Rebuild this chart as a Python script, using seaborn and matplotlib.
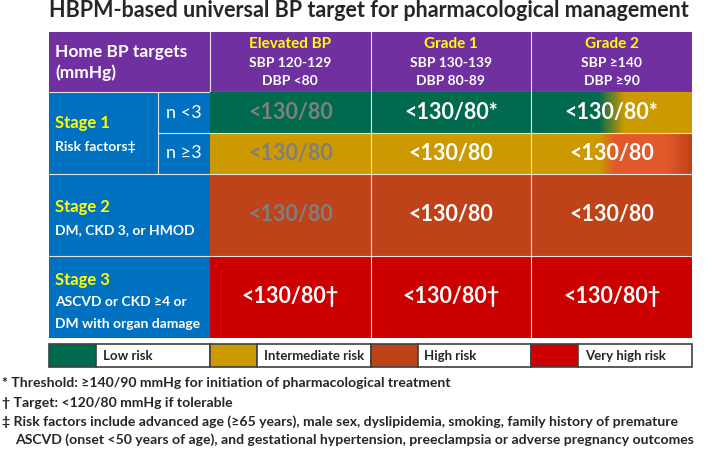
import numpy as np
import matplotlib
matplotlib.use('Agg')
import matplotlib.pyplot as plt
from matplotlib.colors import ListedColormap, to_rgb
from matplotlib.patches import Rectangle
import seaborn as sns

title = 'HBPM-based universal BP target for pharmacological management'
corner = ['Home BP targets', '(mmHg)']
grades = ['Elevated BP', 'Grade 1', 'Grade 2']
grade_sbp = ['SBP 120-129', 'SBP 130-139', 'SBP ≥140']
grade_dbp = ['DBP <80', 'DBP 80-89', 'DBP ≥90']
stages = ['Stage 1', 'Stage 2', 'Stage 3']
stage_notes = [['Risk factors‡'], ['DM, CKD 3, or HMOD'], ['ASCVD or CKD ≥4 or', 'DM with organ damage']]
risk_groups = ['n <3', 'n ≥3']
risk_names = ['Low risk', 'Intermediate risk', 'High risk', 'Very high risk']

# rows: stage1 n<3, stage1 n>=3, stage 2, stage 3 ; cols: grades
risk_left = [[0, 0, 0], [1, 1, 1], [2, 2, 2], [3, 3, 3]]
risk_right = [[0, 0, 1], [1, 1, 2], [2, 2, 2], [3, 3, 3]]
targets = [['<130/80', '<130/80*', '<130/80*'],
           ['<130/80', '<130/80', '<130/80'],
           ['<130/80', '<130/80', '<130/80'],
           ['<130/80†', '<130/80†', '<130/80†']]
muted = [[1, 0, 0], [1, 0, 0], [1, 0, 0], [0, 0, 0]]
row_span = [1, 1, 2, 2]

footnotes = ['* Threshold: ≥140/90 mmHg for initiation of pharmacological treatment',
             '† Target: <120/80 mmHg if tolerable',
             '‡ Risk factors include advanced age (≥65 years), male sex, dyslipidemia, smoking, family history of premature',
             'ASCVD (onset <50 years of age), and gestational hypertension, preeclampsia or adverse pregnancy outcomes']

purple = '#7030A0'
blue = '#0070C0'
risk_colors = ['#006A4E', '#CC9900', '#BE4318', '#CC0000']
orange = '#E2592A'
line_c = '#E4E4E4'

sns.set_theme(style='white')
plt.rcParams['font.family'] = ['Lato', 'DejaVu Sans']

fig = plt.figure(figsize=(7.08, 4.49), dpi=100)
ax = fig.add_axes([0, 0, 1, 1])
ax.set_xlim(0, 708)
ax.set_ylim(449, 0)
ax.axis('off')

# layout in pixels
x_left, x_sub, x_cells, x_right = 49, 158, 210, 692
y_top, y_head = 32, 92
unit = 41
col_w = (x_right - x_cells) / 3
row_edges = np.concatenate([[0], np.cumsum(row_span)])
y_edges = y_head + row_edges * unit
y_bottom = y_edges[-1]

ax.add_patch(Rectangle((x_left, y_top), x_right - x_left, y_head - y_top, color=purple, lw=0))
ax.add_patch(Rectangle((x_left, y_head), x_cells - x_left, y_bottom - y_head, color=blue, lw=0))
for gx in [x_cells + col_w * i for i in range(3)]:
    ax.plot([gx, gx], [y_top, y_head], color=line_c, lw=0.8)
ax.plot([x_left, x_right], [y_head, y_head], color=line_c, lw=0.8)
ax.plot([x_sub, x_sub], [y_head, y_edges[2]], color=line_c, lw=0.8)
ax.plot([x_sub, x_cells], [y_edges[1], y_edges[1]], color=line_c, lw=0.8)
for yy in [y_edges[2], y_edges[3]]:
    ax.plot([x_left, x_cells], [yy, yy], color=line_c, lw=0.8)

ax.text(x_left + 6, 52, corner[0], color='white', fontsize=12.5, weight='bold', va='center')
ax.text(x_left + 6, 73, corner[1], color='white', fontsize=12.5, weight='bold', va='center')
for i, g in enumerate(grades):
    cx = x_cells + col_w * (i + 0.5)
    ax.text(cx, 44, g, color='#FFFF00', fontsize=11, weight='bold', ha='center', va='center')
    ax.text(cx, 63, grade_sbp[i], color='white', fontsize=10, weight='bold', ha='center', va='center')
    ax.text(cx, 81, grade_dbp[i], color='white', fontsize=10, weight='bold', ha='center', va='center')

stage_y = [(123, [147]), (207, [230]), (280, [302, 324])]
for i, s in enumerate(stages):
    sy, ny = stage_y[i]
    ax.text(x_left + 6, sy, s, color='#FFFF00', fontsize=12, weight='bold', va='center')
    for t, yy in zip(stage_notes[i], ny):
        ax.text(x_left + 6, yy, t, color='white', fontsize=10, weight='bold', va='center')
for i, g in enumerate(risk_groups):
    ax.text((x_sub + x_cells) / 2, (y_edges[i] + y_edges[i + 1]) / 2, g, color='white',
            fontsize=13, ha='center', va='center')

# risk cells
hm = fig.add_axes([x_cells / 708, 1 - y_bottom / 449, (x_right - x_cells) / 708, (y_bottom - y_head) / 449])
grid = np.repeat(np.array(risk_left), row_span, axis=0)
sns.heatmap(grid, ax=hm, cmap=ListedColormap(risk_colors), vmin=-0.5, vmax=3.5, cbar=False,
            xticklabels=False, yticklabels=False, linewidths=0)


def gradient(stops, n=300):
    f = np.linspace(0, 1, n)
    pos = [p for p, _ in stops]
    rgb = np.array([to_rgb(c) for _, c in stops])
    img = np.stack([np.interp(f, pos, rgb[:, k]) for k in range(3)], axis=-1)
    return img[None, :, :]


blends = {(0, 1): [(0, risk_colors[0]), (0.42, risk_colors[0]), (0.58, risk_colors[1]), (1, risk_colors[1])],
          (1, 2): [(0, risk_colors[1]), (0.43, risk_colors[1]), (0.52, orange), (0.84, orange), (1, risk_colors[2])]}
for r in range(len(risk_left)):
    for c in range(3):
        a, b = risk_left[r][c], risk_right[r][c]
        if a != b:
            hm.imshow(gradient(blends[(a, b)]), extent=(c, c + 1, row_edges[r + 1], row_edges[r]),
                      aspect='auto', interpolation='bilinear', zorder=2)
hm.set_xlim(0, 3)
hm.set_ylim(row_edges[-1], 0)
for yy in [1, 2, 4]:
    hm.plot([0, 3], [yy, yy], color=line_c, lw=0.8, zorder=3)
for xx in [1, 2]:
    hm.plot([xx, xx], [0, row_edges[-1]], color=line_c, lw=0.8, zorder=3)
for r in range(len(targets)):
    for c in range(3):
        hm.text(c + 0.5, (row_edges[r] + row_edges[r + 1]) / 2, targets[r][c],
                color='#7F7F7F' if muted[r][c] else 'white', fontsize=15.5, weight='bold',
                ha='center', va='center', zorder=4)
hm.axis('off')

ax.text(369, 17, title, fontsize=15.5, weight='bold', ha='center', va='baseline')

# legend
lw_ = (x_right - x_left) / 4
for i, name in enumerate(risk_names):
    x0 = x_left + i * lw_
    ax.add_patch(Rectangle((x0, 344), 47, 23, facecolor=risk_colors[i], edgecolor='#404040', lw=1.2))
    ax.add_patch(Rectangle((x0 + 47, 344), lw_ - 47, 23, facecolor='white', edgecolor='#404040', lw=1.2))
    ax.text(x0 + 54, 355.5, name, fontsize=9.5, weight='bold', va='center')

for i, (t, yy) in enumerate(zip(footnotes, [383, 403, 422, 440])):
    ax.text(2 if i < 3 else 15, yy, t, fontsize=10.1, weight='bold', va='center')

fig.savefig('out.png', dpi=100)
